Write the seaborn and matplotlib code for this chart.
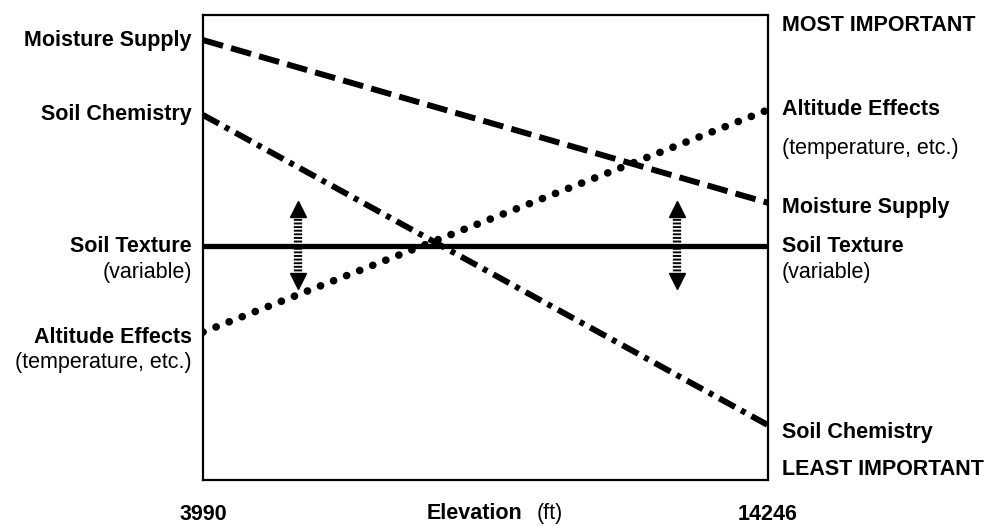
import matplotlib

matplotlib.use("Agg")
import matplotlib.pyplot as plt
import matplotlib.transforms as mtransforms
import seaborn as sns

# relative importance (0 = least, 100 = most) at the two ends of the range
elevation_ft = [3990, 14246]
moisture_supply = [94.6, 59.6]
soil_chemistry = [78.5, 11.8]
soil_texture = [50.3, 50.3]
altitude_effects = [31.8, 79.6]

# "variable" arrows on soil texture
arrow_elev_ft = [5710, 12590]
arrow_heads = [42.8, 58.3]
arrow_shaft = [44.1, 57.0]

tick_labels = ["3990", "14246"]

sns.set_style("white")
plt.rcParams["font.family"] = ["Liberation Sans", "DejaVu Sans"]
plt.rcParams["lines.scale_dashes"] = False
plt.rcParams["text.color"] = "black"
plt.rcParams["xtick.color"] = "black"

FS = 15.5

fig = plt.figure(figsize=(9.97, 5.27), dpi=100)
ax = fig.add_axes([0.2036, 0.0892, 0.5667, 0.8824])

series = [
    (moisture_supply, (0, (15, 6)), "butt", 4.3),
    (soil_chemistry, (0, (13, 5, 3.5, 5)), "butt", 4.3),
    (soil_texture, "-", "butt", 3.8),
    (altitude_effects, (0, (0.1, 10)), "round", 5.5),
]
for values, ls, cap, lw in series:
    sns.lineplot(x=elevation_ft, y=values, ax=ax, color="black", lw=lw,
                 linestyle=ls, legend=False)
    ax.lines[-1].set_dash_capstyle(cap)
    ax.lines[-1].set_solid_capstyle("butt")

# double headed arrows with striped shafts
for x in arrow_elev_ft:
    ax.plot([x, x], arrow_shaft, color="black", lw=6, linestyle=(0, (1.4, 1.2)))
    ax.plot([x], [arrow_heads[1]], marker="^", color="black", markersize=11, ls="none")
    ax.plot([x], [arrow_heads[0]], marker="v", color="black", markersize=11, ls="none")

ax.set_xlim(elevation_ft)
ax.set_ylim(0, 100)
ax.set_yticks([])
ax.set_xticks(elevation_ft)
ax.set_xticklabels(tick_labels, fontweight="bold", fontsize=FS)
ax.tick_params(axis="x", length=0, pad=17)
ax.set_xlabel("")
ax.set_ylabel("")
for s in ax.spines.values():
    s.set_visible(True)
    s.set_color("black")
    s.set_linewidth(1.6)

trans = mtransforms.blended_transform_factory(ax.transAxes, ax.transData)

left_labels = [
    ("Moisture Supply", moisture_supply[0], 0, "bold"),
    ("Soil Chemistry", soil_chemistry[0], 0, "bold"),
    ("Soil Texture", soil_texture[0], 0, "bold"),
    ("(variable)", soil_texture[0], -19, "normal"),
    ("Altitude Effects", altitude_effects[0], -4, "bold"),
    ("(temperature, etc.)", altitude_effects[0], -22, "normal"),
]
for text, y, dy, w in left_labels:
    ax.annotate(text, xy=(0, y), xycoords=trans, xytext=(-8, dy),
                textcoords="offset points", ha="right", va="center",
                fontsize=FS, fontweight=w, annotation_clip=False)

right_labels = [
    ("Altitude Effects", altitude_effects[1], 0, "bold"),
    ("(temperature, etc.)", altitude_effects[1], -28, "normal"),
    ("Moisture Supply", moisture_supply[1], -3, "bold"),
    ("Soil Texture", soil_texture[1], 0, "bold"),
    ("(variable)", soil_texture[1], -19, "normal"),
    ("Soil Chemistry", soil_chemistry[1], -5, "bold"),
]
for text, y, dy, w in right_labels:
    ax.annotate(text, xy=(1, y), xycoords=trans, xytext=(10, dy),
                textcoords="offset points", ha="left", va="center",
                fontsize=FS, fontweight=w, annotation_clip=False)

ax.annotate("MOST IMPORTANT", xy=(1, 0.978), xycoords="axes fraction", xytext=(10, 0),
            textcoords="offset points", ha="left", va="center", fontsize=FS, fontweight="bold")
ax.annotate("LEAST IMPORTANT", xy=(1, 0.0215), xycoords="axes fraction", xytext=(10, 0),
            textcoords="offset points", ha="left", va="center", fontsize=FS, fontweight="bold")

ax.text(0.5646, -0.071, "Elevation", transform=ax.transAxes, ha="right", va="center",
        fontsize=FS, fontweight="bold")
ax.text(0.591, -0.071, "(ft)", transform=ax.transAxes, ha="left", va="center", fontsize=FS)

fig.savefig("out.png", dpi=100)
